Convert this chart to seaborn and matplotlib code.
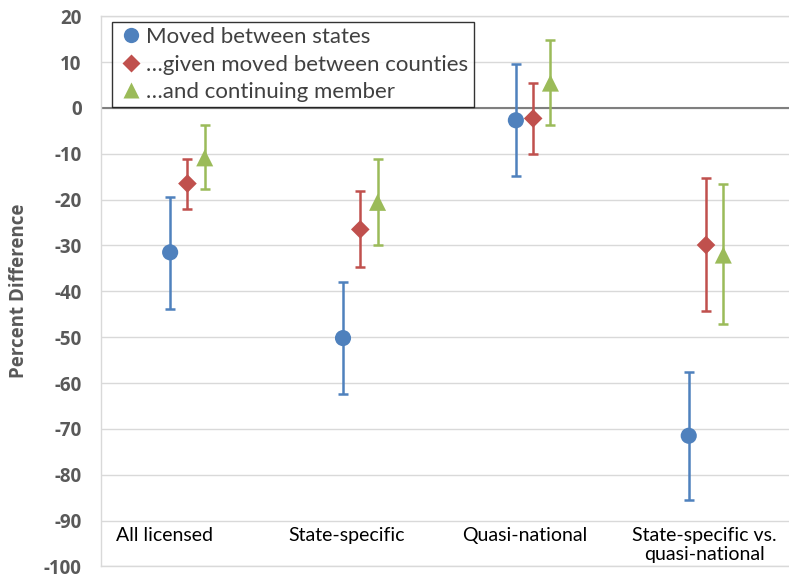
import numpy as np
import pandas as pd
import matplotlib
matplotlib.use("Agg")
import matplotlib.pyplot as plt
import seaborn as sns

categories = ["All licensed", "State-specific", "Quasi-national",
              "State-specific vs.\nquasi-national"]
series = ["Moved between states", "\u2026given moved between counties",
          "\u2026and continuing member"]

# point estimates and confidence bounds per series
moved_states = [-31.5, -50.2, -2.7, -71.5]
moved_states_lo = [-43.8, -62.4, -14.9, -85.6]
moved_states_hi = [-19.4, -38.0, 9.5, -57.5]

given_counties = [-16.5, -26.5, -2.3, -29.9]
given_counties_lo = [-22.0, -34.6, -10.0, -44.3]
given_counties_hi = [-11.1, -18.2, 5.5, -15.3]

continuing = [-10.9, -20.6, 5.4, -32.1]
continuing_lo = [-17.6, -29.9, -3.7, -47.1]
continuing_hi = [-3.8, -11.1, 14.8, -16.7]

colors = ["#4f81bd", "#c0504d", "#9bbb59"]
markers = ["o", "D", "^"]
sizes = [135, 90, 150]
offsets = [-0.1, 0.0, 0.1]

rows = []
for s, (v, lo, hi) in zip(series, [(moved_states, moved_states_lo, moved_states_hi),
                                    (given_counties, given_counties_lo, given_counties_hi),
                                    (continuing, continuing_lo, continuing_hi)]):
    for i, c in enumerate(categories):
        rows.append({"series": s, "cat": i, "value": v[i], "lo": lo[i], "hi": hi[i]})
df = pd.DataFrame(rows)
df["x"] = df["cat"] + df["series"].map(dict(zip(series, offsets)))

sns.set_style("white")
plt.rcParams["font.family"] = ["Lato", "DejaVu Sans"]
plt.rcParams["axes.unicode_minus"] = False
bold_font = ["Open Sans", "DejaVu Sans"]

fig = plt.figure(figsize=(7.89, 5.78), dpi=100)
ax = fig.add_axes([0.128, 0.02, 0.872, 0.952])

for s, col in zip(series, colors):
    d = df[df["series"] == s]
    ax.errorbar(d["x"], d["value"],
                yerr=[d["value"] - d["lo"], d["hi"] - d["value"]],
                fmt="none", ecolor=col, elinewidth=1.8, capsize=3.5, capthick=1.8,
                zorder=2)

sns.scatterplot(data=df, x="x", y="value", hue="series", style="series",
                palette=colors, markers=markers, size="series", sizes=sizes,
                hue_order=series, style_order=series, size_order=series,
                edgecolor="none", ax=ax, zorder=3, legend=True)

ax.set_xlim(-0.5, 3.48)
ax.set_ylim(-100, 20)
yticks = np.arange(-100, 21, 10)
ax.set_yticks(yticks)
ax.set_yticklabels([str(t) for t in yticks], fontweight="bold", fontsize=13.5,
                   color="#595959", family=bold_font)
ax.yaxis.grid(True, color="#d9d9d9", linewidth=1)
ax.set_axisbelow(True)
ax.axhline(0, color="#7f7f7f", linewidth=1.5, zorder=1)
for side in ["left", "right", "top", "bottom"]:
    ax.spines[side].set_color("#d9d9d9")
    ax.spines[side].set_linewidth(1)
ax.spines["right"].set_visible(False)

ax.set_xticks([])
ax.set_xlabel("")
ax.tick_params(axis="y", length=0, pad=14)
ax.set_ylabel("Percent Difference", fontsize=13.5, fontweight="bold", color="#595959",
              family=bold_font)
ax.yaxis.set_label_coords(-0.105, 0.5)

label_x = [-0.13, 0.92, 1.95, 2.99]
for xpos, c in zip(label_x, categories):
    ax.text(xpos, -91.3, c, ha="center", va="top", fontsize=14, color="#000000",
            linespacing=1.2)

handles, labels = ax.get_legend_handles_labels()
handles = handles[:3]
for h, ms in zip(handles, [11, 9, 12]):
    h.set_markersize(ms)
leg = ax.legend(handles, series, loc="upper left", bbox_to_anchor=(0.016, 0.99),
                fontsize=16, frameon=True, fancybox=False, edgecolor="#000000",
                handletextpad=0.1, borderpad=0.25, labelspacing=0.33,
                handlelength=1.2, borderaxespad=0)
leg.get_frame().set_linewidth(1)
for t in leg.get_texts():
    t.set_color("#404040")

fig.savefig("out.png", dpi=100)
